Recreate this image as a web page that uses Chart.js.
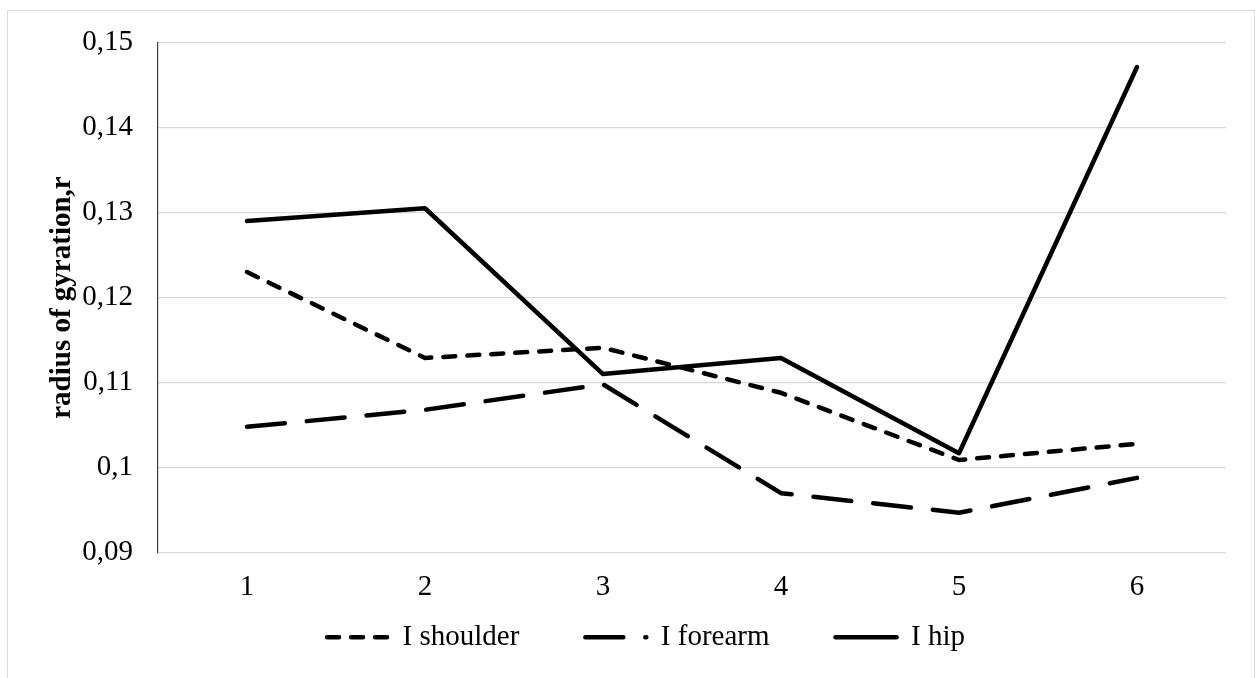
<!DOCTYPE html>
<html>
<head>
<meta charset="utf-8">
<script src="https://cdn.jsdelivr.net/npm/chart.js@4/dist/chart.umd.min.js"></script>
<style>
  html, body { margin: 0; padding: 0; background: #fff; overflow: hidden; }
  #wrap { position: relative; width: 1255px; height: 678px; }
  #frame { position: absolute; left: 7px; top: 10px; width: 1246px; height: 700px; border: 1px solid #d9d9d9; }
  #chart { position: absolute; left: 0; top: 0; }
</style>
</head>
<body>
<div id="wrap">
  <div id="frame"></div>
  <canvas id="chart" width="1255" height="678"></canvas>
</div>
<script>
var categories = ['1', '2', '3', '4', '5', '6'];
var shoulder = [0.1230, 0.1129, 0.1141, 0.1088, 0.1009, 0.1028];
var forearm  = [0.1048, 0.1068, 0.1098, 0.0970, 0.0947, 0.0988];
var hip      = [0.1290, 0.1305, 0.1110, 0.1129, 0.1017, 0.1471];
var yTicks   = ['0,09', '0,1', '0,11', '0,12', '0,13', '0,14', '0,15'];

var serif = "'Liberation Serif', 'Times New Roman', serif";

function lineSet(label, data, dash) {
    return {
        label: label, data: data,
        borderColor: '#000', backgroundColor: '#000',
        borderWidth: 4.5, borderDash: dash,
        borderCapStyle: 'round', borderJoinStyle: 'round',
        pointRadius: 0, pointHoverRadius: 0, tension: 0, fill: false
    };
}

new Chart(document.getElementById('chart').getContext('2d'), {
    type: 'line',
    data: {
        labels: categories,
        datasets: [
            lineSet('I shoulder', shoulder, [12, 12]),
            lineSet('I forearm', forearm, [38, 22]),
            lineSet('I hip', hip, [])
        ]
    },
    options: {
        responsive: false,
        animation: false,
        devicePixelRatio: 1,
        layout: { padding: { left: 66, right: 29, top: 38, bottom: 16.3 } },
        plugins: {
            tooltip: { enabled: false },
            legend: {
                position: 'bottom',
                labels: {
                    usePointStyle: true, pointStyle: 'line', pointStyleWidth: 61,
                    padding: 66, color: '#000',
                    font: { family: serif, size: 29 },
                    generateLabels: function (chart) {
                        return chart.data.datasets.map(function (ds, i) {
                            return {
                                text: ds.label, datasetIndex: i, hidden: false,
                                fillStyle: '#000', strokeStyle: '#000', fontColor: '#000',
                                lineWidth: ds.borderWidth, lineDash: ds.borderDash,
                                lineCap: 'round', lineJoin: 'round', pointStyle: 'line'
                            };
                        });
                    }
                }
            }
        },
        scales: {
            x: {
                offset: true,
                grid: { display: false, drawTicks: false },
                border: { display: false },
                ticks: { color: '#000', mirror: true, padding: -52, font: { family: serif, size: 29 } },
                afterFit: function (s) { s.height = 4; }
            },
            y: {
                min: 0.09, max: 0.15,
                grid: { color: '#d9d9d9', lineWidth: 1.3, drawTicks: false },
                border: { display: true, color: '#404040', width: 1.2 },
                ticks: {
                    stepSize: 0.01, color: '#000', padding: 25,
                    font: { family: serif, size: 29 },
                    callback: function (v, i) { return yTicks[i]; }
                },
                title: {
                    display: true, text: 'radius of gyration,r', color: '#000',
                    padding: { top: -21, bottom: 0 },
                    font: { family: serif, size: 29, weight: 'bold' }
                },
                afterFit: function (s) { s.width = 92; }
            }
        }
    }
});
</script>
</body>
</html>
